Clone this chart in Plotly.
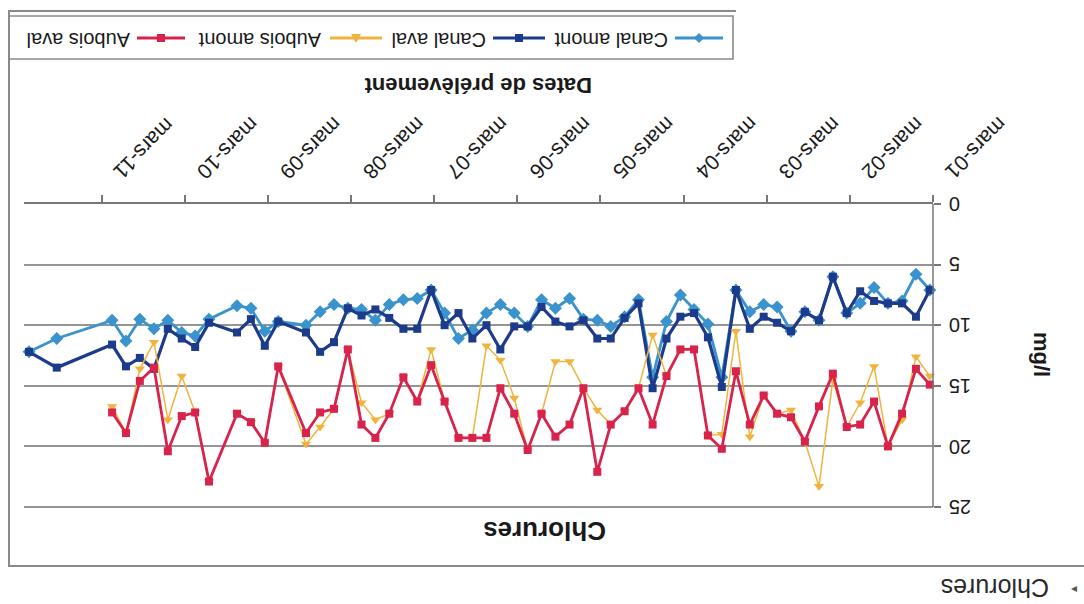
import plotly.graph_objects as go

# Sampling dates (roughly every two months)
dates = [
    "2001-03-15", "2001-05-15", "2001-07-15", "2001-09-15", "2001-11-15",
    "2002-01-15", "2002-03-15", "2002-05-15", "2002-07-15", "2002-09-15", "2002-11-15",
    "2003-01-15", "2003-03-15", "2003-05-15", "2003-07-15", "2003-09-15", "2003-11-15",
    "2004-01-15", "2004-03-15", "2004-05-15", "2004-07-15", "2004-09-15", "2004-11-15",
    "2005-01-15", "2005-03-15", "2005-05-15", "2005-07-15", "2005-09-15", "2005-11-15",
    "2006-01-15", "2006-03-15", "2006-05-15", "2006-07-15", "2006-09-15", "2006-11-15",
    "2007-01-15", "2007-03-15", "2007-05-15", "2007-07-15", "2007-09-15", "2007-11-15",
    "2008-01-15", "2008-03-15", "2008-05-15", "2008-07-15", "2008-09-15",
    "2009-01-15", "2009-03-15", "2009-05-15", "2009-07-15",
    "2009-11-15", "2010-01-15", "2010-03-15", "2010-05-15", "2010-07-15", "2010-09-15",
    "2010-11-15", "2011-01-15", "2011-09-15", "2012-01-15",
]

# Chlorides (mg/l)
canal_amont = [
    7.1, 5.8, 8.0, 8.2, 6.9,
    8.2, 9.0, 6.0, 9.6, 8.9, 10.5,
    8.5, 8.3, 8.9, 7.1, 14.3, 9.9,
    8.7, 7.5, 9.7, 14.3, 7.9, 9.3,
    10.1, 9.6, 9.5, 7.8, 8.6, 7.9,
    10.1, 9.0, 8.3, 9.0, 10.4, 11.1,
    9.0, 7.1, 7.8, 7.9, 8.3, 9.6,
    8.7, 8.6, 8.3, 8.9, 10.0,
    9.7, 10.5, 8.6, 8.4,
    9.5, 10.9, 10.6, 9.6, 10.3, 9.5,
    11.3, 9.6, 11.1, 12.2,
]
canal_aval = [
    7.1, 9.3, 8.2, 8.2, 8.0,
    7.2, 9.0, 6.0, 9.6, 8.9, 10.5,
    9.8, 9.3, 10.3, 7.1, 15.1, 11.0,
    9.0, 9.3, 11.1, 15.2, 8.2, 9.4,
    11.1, 11.1, 9.6, 10.1, 9.7, 8.5,
    10.1, 10.1, 12.0, 10.0, 11.1, 9.0,
    10.0, 7.1, 10.3, 10.3, 9.4, 8.7,
    9.2, 8.6, 11.4, 12.2, 10.6,
    9.7, 11.7, 9.5, 10.6,
    9.8, 11.8, 11.1, 10.3, 13.6, 12.7,
    13.4, 11.6, 13.5, 12.2,
]
aubois_amont = [
    14.2, 12.6, 17.8, 20.0, 13.4,
    16.4, 18.4, 14.5, 23.3, 19.6, 17.0,
    17.3, 15.8, 19.2, 10.5, 19.0, 19.1,
    12.0, 12.0, 14.2, 10.8, 15.2, 17.1,
    18.2, 17.0, 15.2, 13.0, 13.0, 17.3,
    20.3, 16.0, 12.9, 11.7, 19.3, 19.3,
    16.3, 12.0, 16.3, 14.3, 17.3, 17.8,
    16.4, 12.0, 16.9, 18.4, 19.8,
    13.4, 19.7, 18.0, 17.3,
    22.9, 17.2, 14.2, 17.8, 11.4, 13.6,
    18.9, 16.7, None, None,
]
aubois_aval = [
    14.9, 13.6, 17.3, 20.0, 16.3,
    18.2, 18.4, 14.0, 16.7, 19.6, 17.6,
    17.3, 15.8, 18.2, 13.8, 20.2, 19.1,
    12.0, 12.0, 14.2, 18.2, 15.2, 17.1,
    18.2, 22.1, 15.2, 18.2, 19.2, 17.3,
    20.3, 17.3, 15.2, 19.3, 19.3, 19.3,
    16.3, 13.3, 16.3, 14.3, 17.3, 19.3,
    18.2, 12.0, 16.9, 17.2, 18.9,
    13.4, 19.7, 18.0, 17.3,
    22.9, 17.2, 17.5, 20.4, 13.5, 14.6,
    18.9, 17.2, None, None,
]

year_ticks = ["2001-03-01", "2002-03-01", "2003-03-01", "2004-03-01", "2005-03-01",
              "2006-03-01", "2007-03-01", "2008-03-01", "2009-03-01", "2010-03-01",
              "2011-03-01"]
year_labels = ["mars-01", "mars-02", "mars-03", "mars-04", "mars-05", "mars-06",
               "mars-07", "mars-08", "mars-09", "mars-10", "mars-11"]
y_ticks = [0, 5, 10, 15, 20, 25]

series_names = ["Canal amont", "Canal aval", "Aubois amont", "Aubois aval"]
colors = ["#3a93cc", "#1d3b8b", "#f0b43c", "#d8234c"]

FONT = "Liberation Sans, Arial, sans-serif"
INK = "#1a1a1a"
W, H = 1084, 604
L, R, T, B = 24, 933, 204, 510   # plot area in page pixels
Y_MAX = 25.25                     # bottom of the value range (axis is flipped)


def fx(x):
    return (x - L) / (R - L)


def fy(y):
    return (B - y) / (B - T)


fig = go.Figure()
styles = [
    dict(symbol="diamond", size=10, lw=2.8),
    dict(symbol="square", size=8, lw=3.2),
    dict(symbol="triangle-down", size=9, lw=1.5),
    dict(symbol="square", size=8, lw=2.8),
]
for name, vals, col, st in zip(series_names,
                               [canal_amont, canal_aval, aubois_amont, aubois_aval],
                               colors, styles):
    fig.add_trace(go.Scatter(
        x=dates, y=vals, name=name, mode="lines+markers",
        connectgaps=True, cliponaxis=False,
        line=dict(color=col, width=st["lw"]),
        marker=dict(symbol=st["symbol"], size=st["size"], color=col,
                    line=dict(width=0)),
        showlegend=False,
    ))

annotations = []
# year labels, drawn upside-down and slanted
for d, lab in zip(year_ticks, year_labels):
    annotations.append(dict(
        x=d, xref="x", y=1, yref="paper", text=lab, showarrow=False,
        textangle=135, xanchor="left", yanchor="bottom", xshift=5, yshift=18,
        font=dict(family=FONT, size=21, color=INK)))
# value labels on the right-hand axis
for v in y_ticks:
    annotations.append(dict(
        x=1, xref="paper", y=v, yref="y", text=str(v), showarrow=False,
        textangle=180, xanchor="left", yanchor="middle", xshift=14,
        font=dict(family=FONT, size=20, color=INK)))


def label(x, y, text, size, angle=180, color=INK):
    return dict(x=fx(x), y=fy(y), xref="paper", yref="paper", text=text,
                showarrow=False, textangle=angle, xanchor="center",
                yanchor="middle", font=dict(family=FONT, size=size, color=color))


annotations += [
    label(478, 86, "<b>Dates de prélèvement</b>", 22),
    label(1042, 354, "<b>mg/l</b>", 22, angle=90),
    label(545, 531, "<b>Chlorures</b>", 26),
    label(995, 588, "Chlorures", 25, color="#2a2a2a"),
    label(1074, 588, "◂", 12, angle=0, color="#555"),
]

# legend (upside-down)
legend_items = [
    # (text right edge, line x0, line x1)
    (670, 675, 723),
    (488, 493, 545),
    (323, 330, 382),
    (132, 137, 185),
]
shapes = []
LY = 38
for (tx, x0, x1), name, col, st in zip(legend_items, series_names, colors, styles):
    annotations.append(dict(
        x=fx(tx), y=fy(40), xref="paper", yref="paper", text=name, showarrow=False,
        textangle=180, xanchor="right", yanchor="middle",
        font=dict(family=FONT, size=20, color=INK)))
    shapes.append(dict(type="line", xref="paper", yref="paper",
                       x0=fx(x0), x1=fx(x1), y0=fy(LY), y1=fy(LY),
                       line=dict(color=col, width=2.8)))
    cx, cy, s = (x0 + x1) / 2, LY, 5
    if st["symbol"] == "diamond":
        pts = [(cx - s, cy), (cx, cy - s), (cx + s, cy), (cx, cy + s)]
    elif st["symbol"] == "square":
        s = 4
        pts = [(cx - s, cy - s), (cx + s, cy - s), (cx + s, cy + s), (cx - s, cy + s)]
    else:
        pts = [(cx - s, cy - s * 0.8), (cx + s, cy - s * 0.8), (cx, cy + s)]
    path = "M " + " L ".join(f"{fx(a):.5f},{fy(b):.5f}" for a, b in pts) + " Z"
    shapes.append(dict(type="path", xref="paper", yref="paper", path=path,
                       fillcolor=col, line=dict(width=0)))

# chart frame and legend box
frame = "#8a8a8a"
shapes += [
    dict(type="path", xref="paper", yref="paper",
         path=f"M {fx(1090):.5f},{fy(566):.5f} L {fx(9):.5f},{fy(566):.5f} "
              f"L {fx(9):.5f},{fy(11):.5f} L {fx(736):.5f},{fy(11):.5f}",
         line=dict(color=frame, width=2)),
    dict(type="rect", xref="paper", yref="paper",
         x0=fx(9), x1=fx(733), y0=fy(59), y1=fy(16),
         line=dict(color=frame, width=1.6)),
    # right-hand value axis line, from 0 down to 25
    dict(type="line", xref="paper", yref="y", x0=1, x1=1, y0=0, y1=25,
         line=dict(color="#777", width=1.5)),
]

fig.update_layout(
    width=W, height=H,
    margin=dict(l=L, r=W - R, t=T, b=H - B, pad=0),
    paper_bgcolor="white", plot_bgcolor="white",
    showlegend=False,
    xaxis=dict(
        type="date", side="top", range=["2012-02-06", "2001-03-01"],
        tickvals=year_ticks, showticklabels=False, ticks="outside", ticklen=7,
        tickcolor="#777", tickwidth=1.5, showgrid=False, zeroline=False,
        showline=True, linecolor="#777", linewidth=2,
    ),
    yaxis=dict(
        side="right", range=[Y_MAX, 0], tickvals=y_ticks, showticklabels=False,
        ticks="outside", ticklen=7, tickcolor="#777", tickwidth=1.5,
        showgrid=True, gridcolor="#959595", gridwidth=1.8, zeroline=False,
        showline=False,
    ),
    annotations=annotations,
    shapes=shapes,
)

fig.write_html("out.html")
